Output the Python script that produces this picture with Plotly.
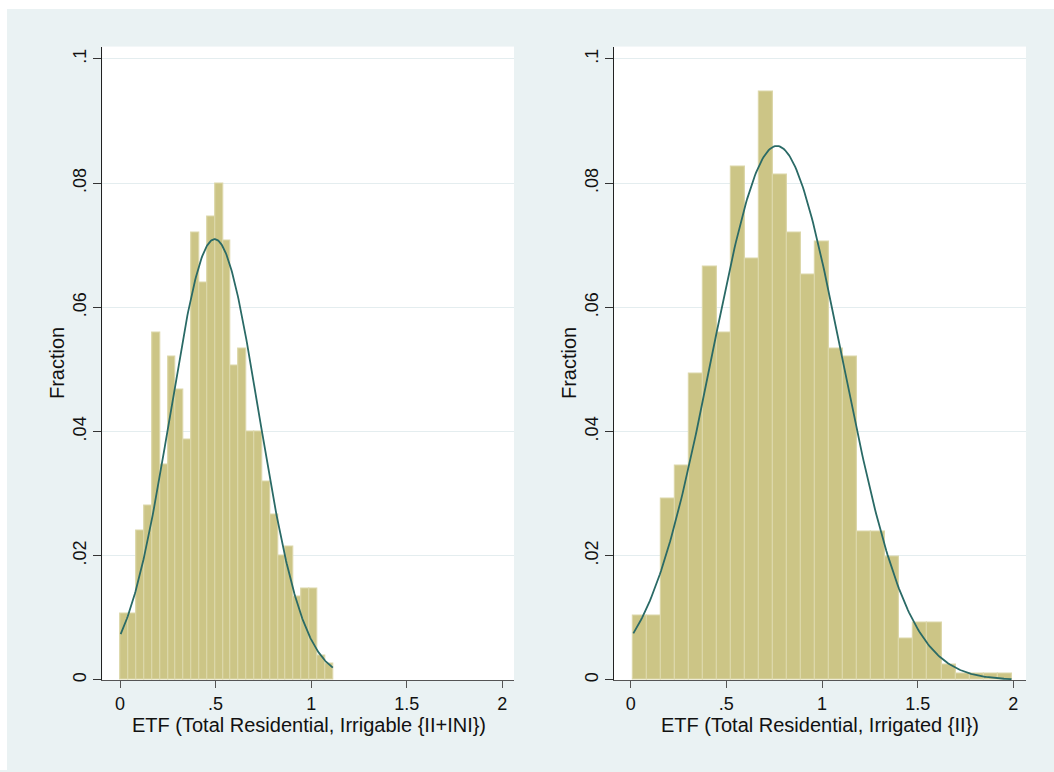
import numpy as np
import plotly.graph_objects as go

# ---------------- data ----------------
# Left panel: ETF (Total Residential, Irrigable {II+INI})
left_bin_start = 0.0035
left_bin_width = 0.0411
left_fraction = [0.0107, 0.0107, 0.024, 0.028, 0.056, 0.0347, 0.052, 0.0467, 0.0387,
                 0.072, 0.064, 0.0747, 0.080, 0.0707, 0.0507, 0.0534, 0.040, 0.040,
                 0.032, 0.0267, 0.020, 0.0214, 0.0134, 0.0147, 0.0147, 0.004, 0.0027]
left_mean = 0.495
left_sd = 0.231

# Right panel: ETF (Total Residential, Irrigated {II})
right_bin_start = 0.014
right_bin_width = 0.0732
right_fraction = [0.0104, 0.0104, 0.0292, 0.0345, 0.0493, 0.0666, 0.0559, 0.0827, 0.0679,
                  0.0947, 0.0814, 0.072, 0.0653, 0.0706, 0.0533, 0.052, 0.0239, 0.0239,
                  0.0199, 0.0066, 0.0092, 0.0092, 0.0025, 0.0011, 0.0011, 0.0011, 0.0011]
right_mean = 0.764
right_sd = 0.3396

left_title = "ETF (Total Residential, Irrigable {II+INI})"
right_title = "ETF (Total Residential, Irrigated {II})"
y_title = "Fraction"

x_tickvals = [0, 0.5, 1, 1.5, 2]
x_ticktext = ["0", ".5", "1", "1.5", "2"]
y_tickvals = [0, 0.02, 0.04, 0.06, 0.08, 0.1]
y_ticktext = ["0", ".02", ".04", ".06", ".08", ".1"]

# ---------------- styling ----------------
W, H = 1054, 772
BG = "#EAF2F3"
BAR_FILL = "#CCC586"
BAR_LINE = "#DCD7A9"
CURVE = "#2A6A66"
FONT = "Liberation Sans, Arial, sans-serif"
FS_TICK = 18
FS_TITLE = 20


def px_x(p):
    return p / W


def px_y(p):
    return 1 - p / H


fig = go.Figure()


def add_panel(start, width, fracs, mean, sd, xa, ya):
    n = len(fracs)
    centers = [start + (i + 0.5) * width for i in range(n)]
    fig.add_trace(go.Bar(
        x=centers, y=fracs, width=width,
        marker=dict(color=BAR_FILL, line=dict(color=BAR_LINE, width=1.2)),
        xaxis=xa, yaxis=ya, showlegend=False, hoverinfo="skip"))
    lo, hi = start, start + n * width
    xs = np.linspace(lo, hi, 300)
    ys = width * np.exp(-0.5 * ((xs - mean) / sd) ** 2) / (sd * np.sqrt(2 * np.pi))
    fig.add_trace(go.Scatter(
        x=xs, y=ys, mode="lines", line=dict(color=CURVE, width=1.8),
        xaxis=xa, yaxis=ya, showlegend=False, hoverinfo="skip"))


add_panel(left_bin_start, left_bin_width, left_fraction, left_mean, left_sd, "x", "y")
add_panel(right_bin_start, right_bin_width, right_fraction, right_mean, right_sd, "x2", "y2")

y_top = px_y(46.7)
y_bot = px_y(681.7)

xaxis_common = dict(
    range=[-0.0926, 2.061], tickvals=x_tickvals, ticktext=x_ticktext,
    showgrid=False, zeroline=False, showline=True, linecolor="#555555", linewidth=1,
    ticks="outside", ticklen=7, tickcolor="#555555", tickwidth=1,
    tickfont=dict(family=FONT, size=FS_TICK, color="#111111"),
    fixedrange=True)
yaxis_common = dict(
    range=[0, 0.102], tickvals=y_tickvals, ticktext=y_ticktext,
    showgrid=True, gridcolor="#E4EDEF", gridwidth=1, zeroline=False,
    showline=True, linecolor="#222222", linewidth=1,
    ticks="outside", ticklen=8, tickcolor="#333333", tickwidth=1,
    tickangle=-90,
    tickfont=dict(family=FONT, size=FS_TICK, color="#111111"),
    domain=[y_bot, y_top], fixedrange=True)

fig.update_layout(
    width=W, height=H,
    margin=dict(l=0, r=0, t=0, b=0),
    paper_bgcolor=BG, plot_bgcolor="white",
    bargap=0,
    xaxis=dict(xaxis_common, domain=[px_x(102.3), px_x(514)], anchor="y"),
    yaxis=dict(yaxis_common, anchor="x"),
    xaxis2=dict(xaxis_common, domain=[px_x(614), px_x(1026)], anchor="y2",
                range=[-0.087, 2.066]),
    yaxis2=dict(yaxis_common, anchor="x2"),
    shapes=[
        dict(type="rect", xref="paper", yref="paper", x0=0, x1=1, y0=px_y(9), y1=1,
             fillcolor="white", line=dict(width=0), layer="below"),
        dict(type="rect", xref="paper", yref="paper", x0=0, x1=px_x(7), y0=0, y1=1,
             fillcolor="white", line=dict(width=0), layer="below"),
    ],
    annotations=[
        dict(text=left_title, xref="paper", yref="paper", x=px_x(308.5), y=px_y(727),
             xanchor="center", yanchor="middle", showarrow=False,
             font=dict(family=FONT, size=FS_TITLE, color="#111111")),
        dict(text=right_title, xref="paper", yref="paper", x=px_x(820), y=px_y(727),
             xanchor="center", yanchor="middle", showarrow=False,
             font=dict(family=FONT, size=FS_TITLE, color="#111111")),
        dict(text=y_title, xref="paper", yref="paper", x=px_x(57), y=px_y(364),
             xanchor="center", yanchor="middle", showarrow=False, textangle=-90,
             font=dict(family=FONT, size=FS_TITLE, color="#111111")),
        dict(text=y_title, xref="paper", yref="paper", x=px_x(569), y=px_y(364),
             xanchor="center", yanchor="middle", showarrow=False, textangle=-90,
             font=dict(family=FONT, size=FS_TITLE, color="#111111")),
    ],
)

fig.write_html("out.html")
